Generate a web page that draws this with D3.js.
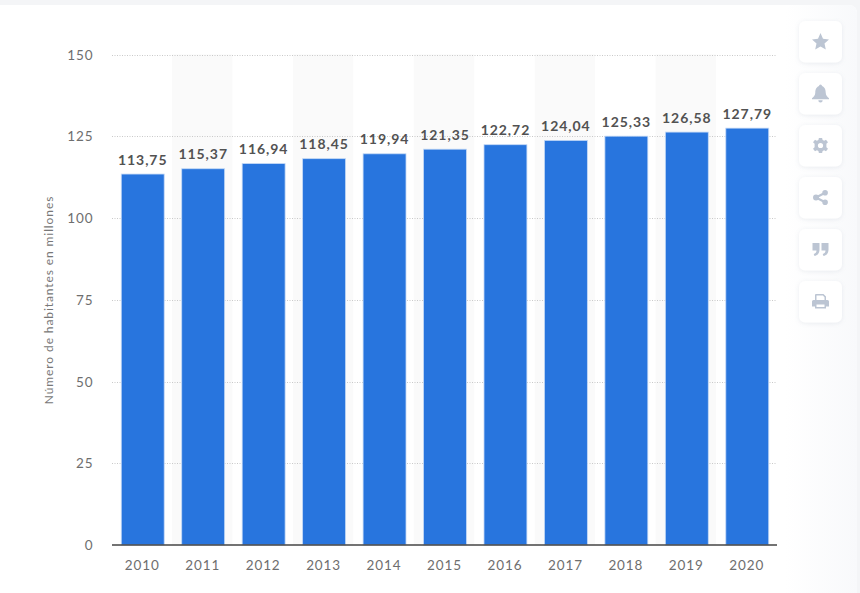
<!DOCTYPE html>
<html><head><meta charset="utf-8">
<script src="https://cdn.jsdelivr.net/npm/d3@7/dist/d3.min.js"></script>
<style>
html,body{margin:0;padding:0;background:#f4f5f7;overflow:hidden}
svg{display:block}
text{font-family:"Lato",sans-serif}
</style></head><body>
<svg id="c" width="860" height="593"></svg>
<script>
const years=["2010","2011","2012","2013","2014","2015","2016","2017","2018","2019","2020"];
const values=[113.75,115.37,116.94,118.45,119.94,121.35,122.72,124.04,125.33,126.58,127.79];
const valueLabels=["113,75","115,37","116,94","118,45","119,94","121,35","122,72","124,04","125,33","126,58","127,79"];
const yTicks=[0,25,50,75,100,125,150];
const yTitle="Número de habitantes en millones";
const toolIcons=["star","bell","gear","share","quote","print"];

const svg=d3.select("#c");
const defs=svg.append("defs");
const g=defs.append("linearGradient").attr("id","side").attr("x1",0).attr("x2",1).attr("y1",0).attr("y2",0);
g.append("stop").attr("offset",0).attr("stop-color","#fff");
g.append("stop").attr("offset",1).attr("stop-color","#f8f9fb");
const sh=defs.append("filter").attr("id","sh").attr("x","-30%").attr("y","-30%").attr("width","160%").attr("height","160%");
sh.append("feDropShadow").attr("dx",0).attr("dy",1).attr("stdDeviation",2).attr("flood-color","#8a94a6").attr("flood-opacity",.16);

svg.append("rect").attr("x",-12).attr("y",5).attr("width",869).attr("height",600).attr("rx",8).attr("fill","#fff");
svg.append("rect").attr("x",785).attr("y",5).attr("width",72).attr("height",600).attr("rx",8).attr("fill","url(#side)");

const x=d3.scaleBand().domain(years).range([112.5,777.5]).paddingInner(0).paddingOuter(0);
const y=d3.scaleLinear().domain([0,150]).range([545,54.5]);
const barW=x.bandwidth()*0.71;
const pad=(x.bandwidth()-barW)/2;

svg.append("g").selectAll("rect").data(years.filter((d,i)=>i%2==1)).join("rect")
 .attr("x",d=>x(d)-1).attr("width",x.bandwidth()).attr("y",y(150)).attr("height",y(0)-y(150)).attr("fill","#fafafa");

svg.append("g").selectAll("line").data(yTicks.filter(d=>d>0)).join("line")
 .attr("x1",112).attr("x2",777).attr("y1",d=>Math.round(y(d))+.5).attr("y2",d=>Math.round(y(d))+.5)
 .attr("stroke","#c9c9c9").attr("stroke-dasharray","1 1.5");

svg.append("g").selectAll("rect").data(years).join("rect")
 .attr("x",d=>x(d)+pad).attr("width",barW)
 .attr("y",(d,i)=>y(values[i])+1).attr("height",(d,i)=>y(0)-y(values[i])-1)
 .attr("fill","#2875de").attr("stroke","#c4d9f6").attr("stroke-width",.8);

svg.append("line").attr("x1",112).attr("x2",777).attr("y1",545).attr("y2",545).attr("stroke","#444").attr("stroke-width",1.4);

svg.append("g").selectAll("text").data(years).join("text")
 .attr("x",(d,i)=>x(d)+x.bandwidth()/2).attr("y",(d,i)=>y(values[i])-8.5)
 .attr("text-anchor","middle").attr("font-size",14).attr("font-weight",700).attr("letter-spacing",".95").attr("fill","#525252")
 .text((d,i)=>valueLabels[i]);

svg.append("g").selectAll("text").data(years).join("text")
 .attr("x",d=>x(d)+x.bandwidth()/2-.5).attr("y",569.5)
 .attr("text-anchor","middle").attr("font-size",13.5).attr("letter-spacing",".9").attr("fill","#6e6e6e").text(d=>d);

svg.append("g").selectAll("text").data(yTicks).join("text")
 .attr("x",93.5).attr("y",d=>y(d)+5)
 .attr("text-anchor","end").attr("font-size",13.5).attr("letter-spacing",".9").attr("fill","#6e6e6e").text(d=>d);

svg.append("text").attr("transform","translate(53,300) rotate(-90)").attr("text-anchor","middle")
 .attr("font-size",12).attr("letter-spacing",".9").attr("fill","#777").text(yTitle);

const iconPaths={
 star:"M0,-8.5 L2.5,-2.8 8.5,-2.1 4,1.9 5.3,8 0,4.9 -5.3,8 -4,1.9 -8.5,-2.1 -2.5,-2.8Z",
 bell:"M-1.5,-7.6 A1.5,1.5 0 0 1 1.5,-7.6 C4.5,-6.4 5.2,-3.5 5.2,-1 C5.2,2 7,3.2 8.5,4.8 L8.5,5.8 L-8.5,5.8 L-8.5,4.8 C-7,3.2 -5.2,2 -5.2,-1 C-5.2,-3.5 -4.5,-6.4 -1.5,-7.6Z M-2.2,6.8 L2.2,6.8 A2.2,2.2 0 0 1 -2.2,6.8Z",
 gear:"M-1.6,-7.5 L1.6,-7.5 2.1,-5.4 3.6,-4.7 5.5,-5.8 7.5,-3.2 5.9,-1.7 5.9,1.7 7.5,3.2 5.5,5.8 3.6,4.7 2.1,5.4 1.6,7.5 -1.6,7.5 -2.1,5.4 -3.6,4.7 -5.5,5.8 -7.5,3.2 -5.9,1.7 -5.9,-1.7 -7.5,-3.2 -5.5,-5.8 -3.6,-4.7 -2.1,-5.4Z M0,-2.6 A2.6,2.6 0 1 0 0,2.6 A2.6,2.6 0 1 0 0,-2.6Z",
 share:"M-4.5,-3 A3,3 0 1 0 -4.5,3 A3,3 0 1 0 -4.5,-3Z M4.6,-7.6 A2.8,2.8 0 1 0 4.6,-2 A2.8,2.8 0 1 0 4.6,-7.6Z M4.6,2 A2.8,2.8 0 1 0 4.6,7.6 A2.8,2.8 0 1 0 4.6,2Z",
 quote:"M-8,-6.5 L-1,-6.5 -1,0 C-1,3.5 -3,6 -6,6.5 L-6.8,4.6 C-5,4 -4,3 -4,1 L-8,1Z M1,-6.5 L8,-6.5 8,0 C8,3.5 6,6 3,6.5 L2.2,4.6 C4,4 5,3 5,1 L1,1Z",
 print:"M-4.5,-7.5 L3,-7.5 5.5,-5 5.5,-1.5 7,-1.5 Q8.5,-1.5 8.5,0 L8.5,5 L5.5,5 5.5,7 -5.5,7 -5.5,5 -8.5,5 -8.5,0 Q-8.5,-1.5 -7,-1.5 L-5.5,-1.5 -5.5,-6.5 Q-5.5,-7.5 -4.5,-7.5Z M-4,-6 L-4,-1.5 4,-1.5 4,-4.3 2.4,-6Z M-4,3 L-4,5.5 4,5.5 4,3Z"
};
const tools=svg.append("g").selectAll("g").data(toolIcons).join("g")
 .attr("transform",(d,i)=>`translate(820.5,${41.5+i*52})`);
tools.append("rect").attr("x",-21.5).attr("y",-20.5).attr("width",43).attr("height",41.5).attr("rx",6).attr("fill","#fff").attr("filter","url(#sh)");
tools.filter(d=>d==="share").append("path").attr("d","M4.6,-4.8 L-4.5,0 4.6,4.8").attr("fill","none").attr("stroke","#bcc5d3").attr("stroke-width",2.2);
tools.append("path").attr("d",d=>iconPaths[d]).attr("fill","#bcc5d3").attr("fill-rule","evenodd");
</script></body></html>
